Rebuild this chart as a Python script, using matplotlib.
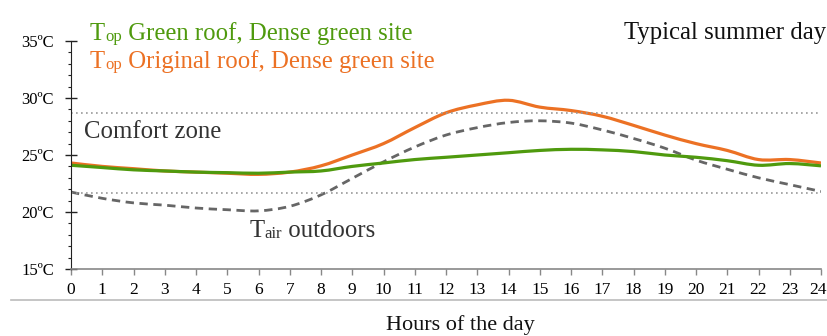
import numpy as np
import matplotlib.pyplot as plt
from matplotlib.path import Path
from matplotlib.patches import PathPatch
from matplotlib.ticker import MultipleLocator
from matplotlib.transforms import offset_copy, ScaledTranslation

plt.rcParams['font.family'] = 'Liberation Serif'

# Hourly operative / air temperatures on a typical summer day (ºC)
hours = list(range(25))
top_green = [24.1, 23.9, 23.7, 23.6, 23.5, 23.45, 23.4, 23.5, 23.6, 24.0, 24.3, 24.6, 24.8,
             25.0, 25.2, 25.4, 25.5, 25.45, 25.3, 25.0, 24.8, 24.5, 24.1, 24.25, 24.05]
top_original = [24.3, 24.0, 23.8, 23.6, 23.5, 23.4, 23.3, 23.5, 24.05, 25.0, 26.0, 27.4, 28.7,
                29.4, 29.8, 29.2, 28.9, 28.4, 27.6, 26.75, 26.0, 25.4, 24.6, 24.6, 24.3]
t_air = [21.75, 21.2, 20.8, 20.6, 20.35, 20.2, 20.1, 20.5, 21.5, 22.95, 24.4, 25.7, 26.75,
         27.4, 27.85, 28.0, 27.8, 27.2, 26.45, 25.6, 24.55, 23.75, 23.0, 22.4, 21.8]
comfort_low, comfort_high = 21.7, 28.7

GREEN = '#4f9a0e'
ORANGE = '#ec7124'
GREY = '#666666'


def smooth_path(x, y):
    # Catmull-Rom converted to cubic Bezier segments (like a "smoothed line" chart)
    x = np.asarray(x, float)
    y = np.asarray(y, float)
    px = np.concatenate([[x[0]], x, [x[-1]]])
    py = np.concatenate([[y[0]], y, [y[-1]]])
    verts = [(x[0], y[0])]
    codes = [Path.MOVETO]
    for i in range(1, len(px) - 2):
        c1 = (px[i] + (px[i + 1] - px[i - 1]) / 6, py[i] + (py[i + 1] - py[i - 1]) / 6)
        c2 = (px[i + 1] - (px[i + 2] - px[i]) / 6, py[i + 1] - (py[i + 2] - py[i]) / 6)
        verts += [c1, c2, (px[i + 1], py[i + 1])]
        codes += [Path.CURVE4] * 3
    return Path(verts, codes)


def sub_text(fig, x, y, main, sub, rest, color, size, transform):
    # main letter, small subscript sitting near the baseline, then the rest of the label
    renderer = fig.canvas.get_renderer()
    t = fig.text(x, y, main, color=color, fontsize=size, va='baseline', transform=transform)
    w = t.get_window_extent(renderer).width
    t2 = fig.text(x, y, sub, color=color, fontsize=size * 0.68, va='baseline',
                  transform=offset_copy(transform, fig=fig, x=w, y=-1, units='dots'))
    w += t2.get_window_extent(renderer).width
    fig.text(x, y, rest, color=color, fontsize=size, va='baseline',
             transform=offset_copy(transform, fig=fig, x=w, y=0, units='dots'))


fig = plt.figure(figsize=(8.28, 3.36), dpi=100)
ax = fig.add_axes([71 / 828, 1 - 269 / 336, 750 / 828, 228 / 336])

ax.axhline(comfort_high, color='#999999', lw=1.2, ls=(0, (1, 2)))
ax.axhline(comfort_low, color='#999999', lw=1.2, ls=(0, (1, 2)))

ax.add_patch(PathPatch(smooth_path(hours, t_air), fill=False, color=GREY, lw=2, ls=(0, (3, 2))))
ax.add_patch(PathPatch(smooth_path(hours, top_original), fill=False, color=ORANGE, lw=2.3))
ax.add_patch(PathPatch(smooth_path(hours, top_green), fill=False, color=GREEN, lw=2.3))

ax.set_xlim(0, 24)
ax.set_ylim(15, 35)
ax.set_xticks(hours)
ax.set_yticks([15, 20, 25, 30, 35])
ax.set_yticklabels([f'{v}ºC' for v in [15, 20, 25, 30, 35]])
ax.yaxis.set_minor_locator(MultipleLocator(1))

for s in ['top', 'right']:
    ax.spines[s].set_visible(False)
ax.spines['left'].set_color('#222222')
ax.spines['bottom'].set_color('#888888')
ax.spines['bottom'].set_linewidth(1.2)

ax.tick_params(axis='y', which='major', direction='inout', length=8.5, width=1,
               color='#222222', labelsize=12, pad=8)
ax.tick_params(axis='y', which='minor', direction='out', length=2.5, width=0.8, color='#222222')
ax.tick_params(axis='x', direction='out', length=4, width=1, color='#888888',
               labelsize=12.5, pad=5)

# nudge the last hour label so it stays inside the figure
last = ax.get_xticklabels()[-1]
last.set_transform(last.get_transform() + ScaledTranslation(-3 / 100, 0, fig.dpi_scale_trans))

sub_text(fig, 90 / 828, 1 - 40 / 336, 'T', 'op', ' Green roof, Dense green site',
         GREEN, 17.8, fig.transFigure)
sub_text(fig, 90 / 828, 1 - 68 / 336, 'T', 'op', ' Original roof, Dense green site',
         ORANGE, 17.8, fig.transFigure)
fig.text(826 / 828, 1 - 39 / 336, 'Typical summer day', color='#111111',
         fontsize=17.8, ha='right', va='baseline')
ax.text(0.4, 26.5, 'Comfort zone', color='#333333', fontsize=17.8, va='baseline')
sub_text(fig, 5.7, 17.8, 'T', 'air', ' outdoors', '#333333', 17.8, ax.transData)

# separator line under the tick labels
fig.add_artist(plt.Line2D([11 / 828, 1], [1 - 300 / 336] * 2, color='#bbbbbb', lw=1.2))
fig.text(460 / 828, 1 - 330 / 336, 'Hours of the day', color='#111111',
         fontsize=16, ha='center', va='baseline')

fig.savefig('out.png', dpi=100)
